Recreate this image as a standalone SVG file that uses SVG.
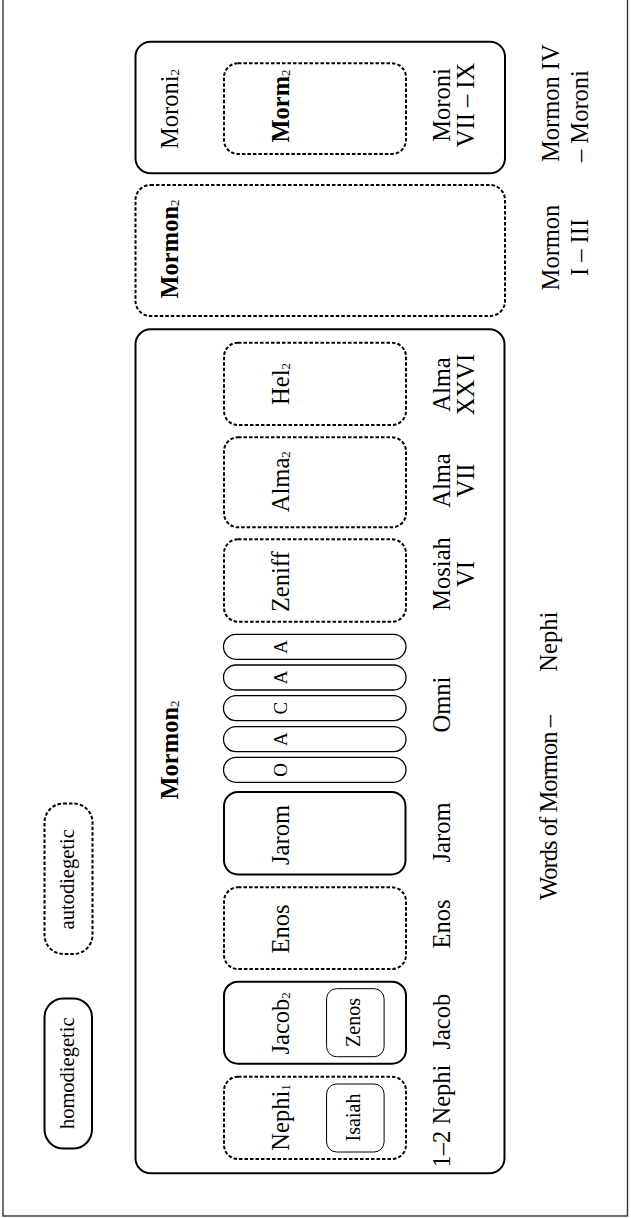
<svg xmlns="http://www.w3.org/2000/svg" width="631" height="1218" viewBox="0 0 631 1218">
<style>
  text { font-family: "Liberation Serif", "Times New Roman", serif; fill: #000; }
  .t { font-size: 24.5px; text-anchor: middle; }
  .b { font-weight: bold; }
  .ts { font-size: 24.5px; text-anchor: start; }
  .sm { font-size: 20px; text-anchor: middle; }
  .lg { font-size: 20.5px; text-anchor: middle; }
  .pl { font-size: 19px; text-anchor: middle; }
  .sub { font-size: 13px; font-weight: normal; }
  .solid { fill: none; stroke: #000; stroke-width: 2; }
  .dash { fill: none; stroke: #000; stroke-width: 2; stroke-dasharray: 3.5 2; }
  .thin { fill: none; stroke: #000; stroke-width: 1; }
  .pill { fill: none; stroke: #000; stroke-width: 1.3; }
</style>
<rect x="0" y="0" width="631" height="1218" fill="#fff"/>
<rect x="3" y="-2" width="624.5" height="1218" fill="none" stroke="#333" stroke-width="1.4"/>

<g id="legend-homodiegetic">
  <rect class="solid" x="44.5" y="998.5" width="47.5" height="150" rx="19"/>
  <text class="lg" transform="translate(73.5,1073.3) rotate(-90)">homodiegetic</text>
</g>
<g id="legend-autodiegetic">
  <rect class="dash" x="44.5" y="803.5" width="48" height="150.5" rx="19"/>
  <text class="lg" transform="translate(73.5,879.3) rotate(-90)">autodiegetic</text>
</g>

<g id="mormon-main">
  <rect class="solid" x="135.5" y="329.3" width="369" height="844" rx="15"/>
  <text class="t b" transform="translate(178,750) rotate(-90)">Mormon<tspan class="sub" dy="1">2</tspan></text>
</g>

<g id="nephi1">
  <rect class="dash" x="224" y="1076.7" width="182" height="82.3" rx="14"/>
  <text class="t" transform="translate(289,1117.5) rotate(-90)">Nephi<tspan class="sub" dy="1">1</tspan></text>
</g>
<g id="isaiah">
  <rect class="thin" x="326.6" y="1084" width="57.5" height="68" rx="10"/>
  <text class="sm" transform="translate(360,1117.5) rotate(-90)">Isaiah</text>
</g>

<g id="jacob2">
  <rect class="solid" x="224" y="981.7" width="182" height="82" rx="14"/>
  <text class="t" transform="translate(289,1023.3) rotate(-90)">Jacob<tspan class="sub" dy="1">2</tspan></text>
</g>
<g id="zenos">
  <rect class="thin" x="326.6" y="988.7" width="57.5" height="68" rx="10"/>
  <text class="sm" transform="translate(360,1022.5) rotate(-90)">Zenos</text>
</g>

<g id="enos">
  <rect class="dash" x="224" y="887.3" width="182" height="81.7" rx="14"/>
  <text class="t" transform="translate(289,929) rotate(-90)">Enos</text>
</g>

<g id="jarom">
  <rect class="solid" x="224" y="792" width="181.5" height="82.5" rx="14"/>
  <text class="t" transform="translate(289,835) rotate(-90)">Jarom</text>
</g>

<g id="omni-o">
  <rect class="pill" x="223.5" y="757.3" width="182.5" height="25" rx="12.5"/>
  <text class="pl" transform="translate(287,769.8) rotate(-90)">O</text>
</g>
<g id="omni-a1">
  <rect class="pill" x="223.5" y="726.7" width="182.5" height="25" rx="12.5"/>
  <text class="pl" transform="translate(287,739.2) rotate(-90)">A</text>
</g>
<g id="omni-c">
  <rect class="pill" x="223.5" y="695.7" width="182.5" height="25" rx="12.5"/>
  <text class="pl" transform="translate(287,708.2) rotate(-90)">C</text>
</g>
<g id="omni-a2">
  <rect class="pill" x="223.5" y="665" width="182.5" height="25" rx="12.5"/>
  <text class="pl" transform="translate(287,677.5) rotate(-90)">A</text>
</g>
<g id="omni-a3">
  <rect class="pill" x="223.5" y="634.3" width="182.5" height="25" rx="12.5"/>
  <text class="pl" transform="translate(287,646.8) rotate(-90)">A</text>
</g>

<g id="zeniff">
  <rect class="dash" x="224" y="539.3" width="182" height="82.4" rx="14"/>
  <text class="t" transform="translate(289,581.7) rotate(-90)">Zeniff</text>
</g>
<g id="alma2">
  <rect class="dash" x="224" y="437.3" width="182" height="90" rx="14"/>
  <text class="t" transform="translate(289,481.7) rotate(-90)">Alma<tspan class="sub" dy="1">2</tspan></text>
</g>
<g id="hel2">
  <rect class="dash" x="224" y="342.7" width="182" height="82.3" rx="14"/>
  <text class="t" transform="translate(289,384) rotate(-90)">Hel<tspan class="sub" dy="1">2</tspan></text>
</g>

<g id="mormon-middle">
  <rect class="dash" x="135.5" y="185" width="369.5" height="131" rx="15"/>
  <text class="t b" transform="translate(178,249) rotate(-90)">Mormon<tspan class="sub" dy="1">2</tspan></text>
</g>

<g id="moroni2">
  <rect class="solid" x="135.5" y="41.7" width="369.5" height="131.6" rx="15"/>
  <text class="t" transform="translate(178,109) rotate(-90)">Moroni<tspan class="sub" dy="1">2</tspan></text>
</g>
<g id="morm2">
  <rect class="dash" x="224" y="63.3" width="182" height="90.7" rx="14"/>
  <text class="t b" transform="translate(289,106) rotate(-90)">Morm<tspan class="sub" dy="1">2</tspan></text>
</g>

<g id="book-labels">
  <text class="t" transform="translate(449.5,1116) rotate(-90)">1–2 Nephi</text>
  <text class="t" transform="translate(449.5,1021.7) rotate(-90)">Jacob</text>
  <text class="t" transform="translate(449.5,924) rotate(-90)">Enos</text>
  <text class="t" transform="translate(449.5,832.5) rotate(-90)">Jarom</text>
  <text class="t" transform="translate(449.5,704.5) rotate(-90)">Omni</text>
  <text class="t" transform="translate(449.5,574) rotate(-90)">Mosiah</text>
  <text class="t" transform="translate(474,574) rotate(-90)">VI</text>
  <text class="t" transform="translate(449.5,480.5) rotate(-90)">Alma</text>
  <text class="t" transform="translate(474,480.5) rotate(-90)">VII</text>
  <text class="t" transform="translate(449.5,384.5) rotate(-90)">Alma</text>
  <text class="t" transform="translate(474,384.5) rotate(-90)">XXVI</text>
  <text class="t" transform="translate(449.5,105) rotate(-90)">Moroni</text>
  <text class="t" transform="translate(474,105) rotate(-90)">VII – IX</text>
  <text class="ts" transform="translate(557,900) rotate(-90)" textLength="185" lengthAdjust="spacing">Words of Mormon –</text>
  <text class="t" transform="translate(557,641.7) rotate(-90)">Nephi</text>
  <text class="t" transform="translate(559,247.5) rotate(-90)">Mormon</text>
  <text class="t" transform="translate(588,247.5) rotate(-90)">I – III</text>
  <text class="ts" transform="translate(559,162) rotate(-90)">Mormon IV</text>
  <text class="ts" transform="translate(588,162) rotate(-90)">– Moroni</text>
</g>
<g id="connectors"></g>
</svg>
